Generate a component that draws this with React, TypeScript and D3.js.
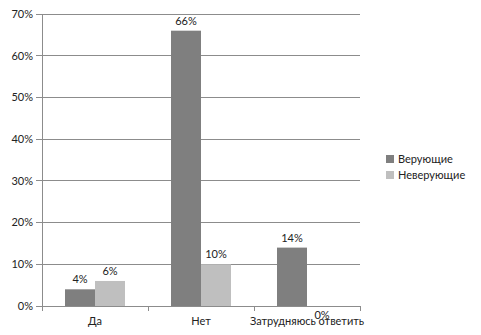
import React from "react";
import * as d3 from "d3";

const categories = ["Да", "Нет", "Затрудняюсь ответить"];
const seriesNames = ["Верующие", "Неверующие"];
const believers = [4, 66, 14];
const nonBelievers = [6, 10, 0];
const yTicks = [0, 10, 20, 30, 40, 50, 60, 70];
const colors = ["#7f7f7f", "#bfbfbf"];

export default function App() {
  const W = 481, H = 335;
  const left = 42, right = 360, top = 14, bottom = 306;
  const x = d3.scaleBand<string>().domain(categories).range([left, right]);
  const y = d3.scaleLinear().domain([0, 70]).range([bottom, top]);
  const barW = 30;
  const series = [believers, nonBelievers];
  const font = "Lato, 'Carlito', sans-serif";
  const grid = "#8c8c8c";

  return (
    <svg width={W} height={H} style={{ position: "absolute", left: 0, top: 0 }} fontFamily={font}>
      <rect width={W} height={H} fill="#fff" />
      {yTicks.map((t) => (
        <g key={t}>
          <line x1={left - 6} x2={right} y1={y(t)} y2={y(t)} stroke={grid} strokeWidth={1} shapeRendering="crispEdges" />
          <text x={left - 9} y={y(t)} dy="0.35em" textAnchor="end" fontSize={11} fill="#222">{t}%</text>
        </g>
      ))}
      <line x1={left} x2={left} y1={top} y2={bottom} stroke={grid} shapeRendering="crispEdges" />
      {[...categories.map((c) => x(c)!), right].map((px, i) => (
        <line key={i} x1={px} x2={px} y1={bottom} y2={bottom + 5} stroke={grid} shapeRendering="crispEdges" />
      ))}
      {categories.map((c, ci) => {
        const cx = x(c)! + x.bandwidth() / 2;
        return (
          <g key={c}>
            {series.map((vals, si) => {
              const bx = cx - barW + si * barW;
              const v = vals[ci];
              const ly = v === 0 ? y(0) + 13 : y(v) - 6;
              return (
                <g key={si}>
                  <rect x={bx} y={y(v)} width={barW} height={y(0) - y(v)} fill={colors[si]} />
                  <text x={bx + barW / 2} y={ly} textAnchor="middle" fontSize={11} fill="#222">{v}%</text>
                </g>
              );
            })}
            <text x={cx} y={325} textAnchor="middle" fontSize={11} fill="#222">{c}</text>
          </g>
        );
      })}
      {seriesNames.map((n, i) => (
        <g key={n}>
          <rect x={386} y={155 + i * 16} width={8} height={8} fill={colors[i]} />
          <text x={398} y={159 + i * 16} dy="0.35em" fontSize={11} fill="#222">{n}</text>
        </g>
      ))}
    </svg>
  );
}
